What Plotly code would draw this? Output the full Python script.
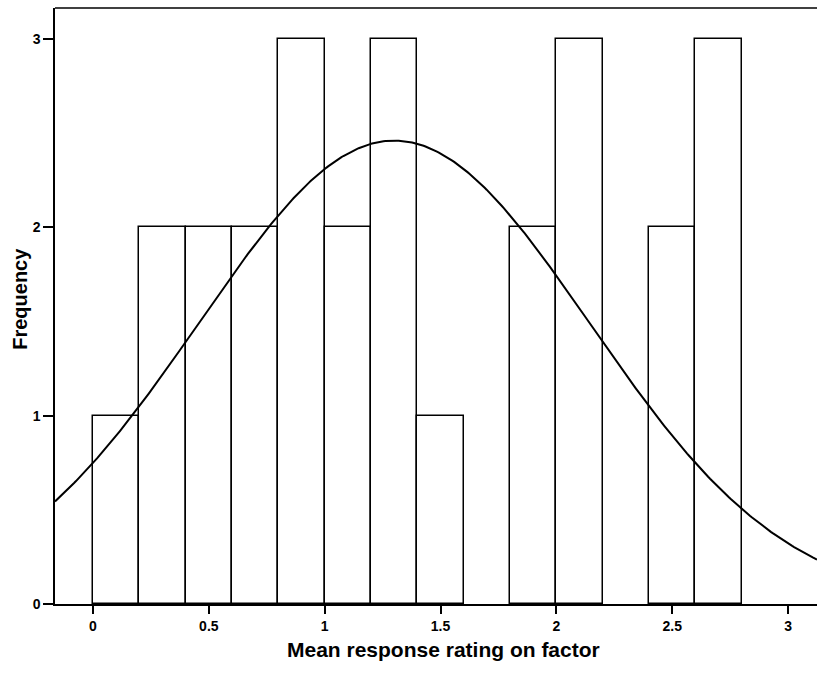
import numpy as np
import plotly.graph_objects as go

# Histogram data
bin_left = [0.0, 0.2, 0.4, 0.6, 0.8, 1.0, 1.2, 1.4, 1.6, 1.8, 2.0, 2.2, 2.4, 2.6]
counts = [1, 2, 2, 2, 3, 2, 3, 1, 0, 2, 3, 0, 2, 3]
bin_width = 0.2

# Fitted normal curve parameters
fit_mean = 1.30
fit_sd = 0.843
n_total = sum(counts)

x_ticks = [0, 0.5, 1, 1.5, 2, 2.5, 3]
x_tick_labels = ["0", "0.5", "1", "1.5", "2", "2.5", "3"]
y_ticks = [0, 1, 2, 3]

x_title = "Mean response rating on factor"
y_title = "Frequency"

x_range = [-0.164, 3.125]
y_range = [0, 3.165]

centers = [b + bin_width / 2 for b in bin_left]
line_widths = [1.5 if c > 0 else 0 for c in counts]

xc = np.linspace(x_range[0], x_range[1], 400)
yc = n_total * bin_width / (fit_sd * np.sqrt(2 * np.pi)) * np.exp(-0.5 * ((xc - fit_mean) / fit_sd) ** 2)

fig = go.Figure()
fig.add_trace(go.Bar(
    x=centers, y=counts, width=bin_width,
    marker=dict(color="white", line=dict(color="black", width=line_widths)),
    showlegend=False,
))
fig.add_trace(go.Scatter(
    x=xc, y=yc, mode="lines",
    line=dict(color="black", width=2),
    showlegend=False, cliponaxis=True,
))

# top frame line
fig.add_shape(type="line", xref="paper", yref="paper", x0=0, x1=1, y0=1, y1=1,
              line=dict(color="black", width=1.5))

title_font = dict(family="Liberation Sans, Arial, sans-serif", size=21, color="black")
fig.add_annotation(text="<b>" + x_title + "</b>", xref="paper", yref="paper",
                   x=0.51, y=-0.077, xanchor="center", yanchor="middle",
                   showarrow=False, font=title_font)
fig.add_annotation(text="<b>" + y_title + "</b>", xref="paper", yref="paper",
                   x=-0.046, y=0.512, xanchor="center", yanchor="middle", textangle=-90,
                   showarrow=False, font=dict(title_font, size=20))

tick_font = dict(family="Liberation Sans, Arial, sans-serif", size=14, color="black", weight="bold")

fig.update_layout(
    width=817, height=673,
    margin=dict(l=55, r=0, t=8, b=69),
    plot_bgcolor="white", paper_bgcolor="white",
    font=dict(family="Liberation Sans, Arial, sans-serif", color="black", size=12),
    bargap=0,
    xaxis=dict(
        range=x_range, tickmode="array", tickvals=x_ticks, ticktext=x_tick_labels,
        ticks="outside", ticklen=8, tickwidth=1.5, tickcolor="black",
        tickfont=tick_font,
        showline=True, linecolor="black", linewidth=1.5,
        showgrid=False, zeroline=False,
    ),
    yaxis=dict(
        range=y_range, tickmode="array", tickvals=y_ticks,
        ticks="outside", ticklen=10, tickwidth=1.5, tickcolor="black",
        tickfont=tick_font,
        showline=True, linecolor="black", linewidth=1.5,
        showgrid=False, zeroline=False,
    ),
)

fig.write_html("out.html")
